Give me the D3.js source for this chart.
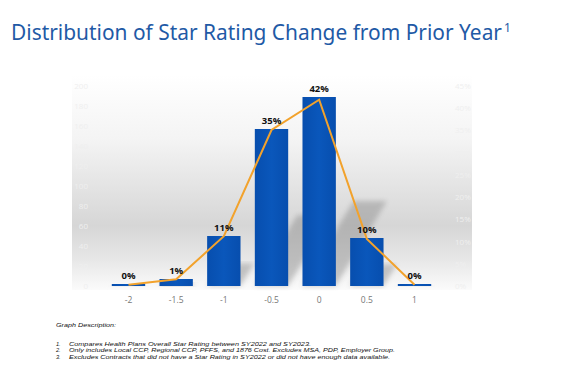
<!DOCTYPE html>
<html>
<head>
<meta charset="utf-8">
<script src="https://cdn.jsdelivr.net/npm/d3@7"></script>
<style>
  body { margin: 0; background: #fff; }
</style>
</head>
<body>
<script>
// data
var categories = ['-2', '-1.5', '-1', '-0.5', '0', '0.5', '1'];
var barCounts = [2, 7, 50, 157, 189, 48, 2];            // left axis (count)
var linePct = [0.3, 1.5, 11.2, 35.1, 41.9, 10.6, 0.3];  // right axis (%)
var pctLabels = ['0%', '1%', '11%', '35%', '42%', '10%', '0%'];
var leftTicks = [0, 20, 40, 60, 80, 100, 120, 140, 160, 180, 200];
var rightTicks = [0, 5, 10, 15, 20, 25, 30, 35, 40, 45];
var notes = [
  'Compares Health Plans Overall Star Rating between SY2022 and SY2023.',
  'Only includes Local CCP, Regional CCP, PFFS, and 1876 Cost. Excludes MSA, PDP, Employer Group.',
  'Excludes Contracts that did not have a Star Rating in SY2022 or did not have enough data available.'
];
var noteWidths = [242, 326, 321];

var svg = d3.select('body').append('svg').attr('width', 570).attr('height', 375);
var defs = svg.append('defs');

// background panel gradient
var bg = defs.append('linearGradient').attr('id', 'bg').attr('x1', 0).attr('y1', 0).attr('x2', 0).attr('y2', 1);
bg.append('stop').attr('offset', '0%').attr('stop-color', '#ffffff');
bg.append('stop').attr('offset', '30%').attr('stop-color', '#f4f4f4');
bg.append('stop').attr('offset', '70%').attr('stop-color', '#d6d6d6');
bg.append('stop').attr('offset', '85%').attr('stop-color', '#e6e6e6');
bg.append('stop').attr('offset', '100%').attr('stop-color', '#fbfbfb');

var barGrad = defs.append('linearGradient').attr('id', 'barg').attr('x1', 0).attr('y1', 0).attr('x2', 1).attr('y2', 0);
barGrad.append('stop').attr('offset', '0%').attr('stop-color', '#074eae');
barGrad.append('stop').attr('offset', '50%').attr('stop-color', '#0a57bb');
barGrad.append('stop').attr('offset', '100%').attr('stop-color', '#074eae');

defs.append('filter').attr('id', 'blur').append('feGaussianBlur').attr('stdDeviation', 2.5);

// title
svg.append('text')
   .attr('x', 11).attr('y', 40)
   .attr('fill', '#1f5aa6')
   .attr('font-family', 'Noto Sans, sans-serif')
   .attr('font-size', 21)
   .attr('textLength', 491).attr('lengthAdjust', 'spacingAndGlyphs')
   .text('Distribution of Star Rating Change from Prior Year');
svg.append('text')
   .attr('x', 504).attr('y', 32)
   .attr('fill', '#1f5aa6')
   .attr('font-family', 'Noto Sans, sans-serif')
   .attr('font-size', 12)
   .text('1');

// panel
svg.append('rect')
   .attr('x', 72).attr('y', 75).attr('width', 400).attr('height', 215)
   .attr('fill', 'url(#bg)');

var x = d3.scaleBand().domain(categories).range([97.5, 445.5]).padding(0.3);
var yL = d3.scaleLinear().domain([0, 200]).range([286, 86]);
var yR = d3.scaleLinear().domain([0, 45]).range([286, 86]);

// faint axis labels
svg.selectAll('text.lt')
   .data(leftTicks).enter().append('text')
   .attr('class', 'lt')
   .attr('x', 88).attr('y', d => yL(d) + 3)
   .attr('text-anchor', 'end')
   .attr('fill', '#efefef')
   .attr('font-family', 'Open Sans, sans-serif')
   .attr('font-size', 8)
   .text(d => d);

svg.selectAll('text.rt')
   .data(rightTicks).enter().append('text')
   .attr('class', 'rt')
   .attr('x', 455).attr('y', d => yR(d) + 3)
   .attr('fill', '#efefef')
   .attr('font-family', 'Open Sans, sans-serif')
   .attr('font-size', 8)
   .text(d => d + '%');

// bar shadows
svg.selectAll('path.shadow')
   .data(barCounts).enter().append('path')
   .attr('class', 'shadow')
   .attr('d', function(d, i) {
     var x0 = x(categories[i]), x1 = x0 + x.bandwidth();
     var h = yL(0) - yL(d), k = h * 0.45;
     return 'M' + x0 + ',' + yL(0) + 'L' + x1 + ',' + yL(0) +
            'L' + (x1 + k * 0.6) + ',' + (yL(0) - k) + 'L' + (x0 + k * 0.6) + ',' + (yL(0) - k) + 'Z';
   })
   .attr('fill', '#8a8a8a')
   .attr('opacity', 0.45)
   .attr('filter', 'url(#blur)');

// bars
svg.selectAll('rect.bar')
   .data(barCounts).enter().append('rect')
   .attr('class', 'bar')
   .attr('x', (d, i) => x(categories[i]))
   .attr('y', d => yL(d))
   .attr('width', x.bandwidth())
   .attr('height', d => yL(0) - yL(d))
   .attr('fill', 'url(#barg)');

// line
var line = d3.line()
   .x((d, i) => x(categories[i]) + x.bandwidth() / 2)
   .y(d => yR(d));
svg.append('path')
   .datum(linePct)
   .attr('d', line)
   .attr('fill', 'none')
   .attr('stroke', '#f2a22c')
   .attr('stroke-width', 2);

// data labels
svg.selectAll('text.val')
   .data(pctLabels).enter().append('text')
   .attr('class', 'val')
   .attr('x', (d, i) => x(categories[i]) + x.bandwidth() / 2)
   .attr('y', (d, i) => yL(barCounts[i]) - 5)
   .attr('text-anchor', 'middle')
   .attr('fill', '#111')
   .attr('font-family', 'Open Sans, sans-serif')
   .attr('font-weight', 'bold')
   .attr('font-size', 9.5)
   .text(d => d);

// x axis
var xAxis = svg.append('g')
   .attr('transform', 'translate(0,' + 289 + ')')
   .call(d3.axisBottom(x).tickSize(0).tickPadding(8));
xAxis.select('.domain').remove();
xAxis.selectAll('text')
   .attr('fill', '#777')
   .attr('font-family', 'Open Sans, sans-serif')
   .attr('font-size', 8.5);

// footnotes
var fn = svg.append('g')
   .attr('font-family', 'Liberation Sans, Arial, sans-serif')
   .attr('font-style', 'italic')
   .attr('font-size', 5.6)
   .attr('fill', '#111');
fn.append('text').attr('x', 56).attr('y', 327)
   .attr('textLength', 60).attr('lengthAdjust', 'spacingAndGlyphs')
   .text('Graph Description:');
fn.selectAll('text.num')
   .data(notes).enter().append('text')
   .attr('class', 'num')
   .attr('x', 56).attr('y', (d, i) => 345.5 + i * 6.5)
   .text((d, i) => (i + 1) + '.');
fn.selectAll('text.note')
   .data(notes).enter().append('text')
   .attr('class', 'note')
   .attr('x', 69).attr('y', (d, i) => 345.5 + i * 6.5)
   .attr('textLength', (d, i) => noteWidths[i]).attr('lengthAdjust', 'spacingAndGlyphs')
   .text(d => d);
</script>
</body>
</html>
